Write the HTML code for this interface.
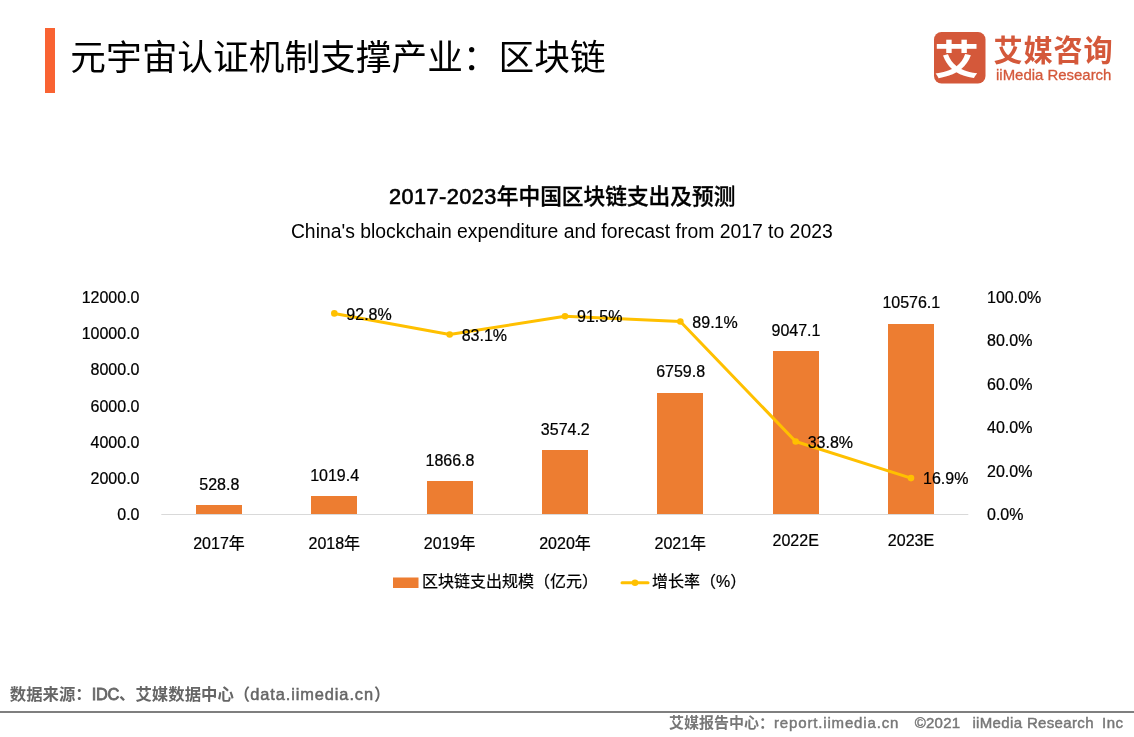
<!DOCTYPE html>
<html lang="zh-CN">
<head>
<meta charset="utf-8">
<title>元宇宙认证机制支撑产业：区块链</title>
<style>
html,body{margin:0;padding:0;background:#fff;}
body{width:1134px;height:737px;overflow:hidden;font-family:"Liberation Sans","Noto Sans CJK SC",sans-serif;}
svg{display:block;}
text{font-family:"Liberation Sans","Noto Sans CJK SC",sans-serif;}
.t16{font-size:16px;fill:#000;stroke:#000;stroke-width:0.22px;}
</style>
</head>
<body>
<svg width="1134" height="737" viewBox="0 0 1134 737">
<rect x="0" y="0" width="1134" height="737" fill="#ffffff"/>
<!-- header -->
<rect x="45" y="28" width="10" height="65" fill="#F96332"/>
<text x="70.3" y="69.8" font-size="35.7" fill="#000" font-weight="400">元宇宙认证机制支撑产业：区块链</text>
<!-- logo -->
<rect x="934" y="32" width="51.5" height="51.5" rx="7.5" ry="7.5" fill="#D4583A"/>
<text transform="translate(956.6 74.4) scale(1.12 1)" font-size="40" font-weight="700" fill="#fff" text-anchor="middle">艾</text>
<text x="993.4" y="61.3" font-size="29.2" letter-spacing="0.85" font-weight="700" fill="#D4583A">艾媒咨询</text>
<text x="996" y="79.8" font-size="14.95" fill="#D4583A" stroke="#D4583A" stroke-width="0.3">iiMedia Research</text>
<!-- chart titles -->
<text x="389" y="204" font-size="21.7" font-weight="500" fill="#000" stroke="#000" stroke-width="0.35"><tspan letter-spacing="0.45" stroke-width="0.6">2017-2023</tspan>年中国区块链支出及预测</text>
<text x="561.8" y="238.4" font-size="19.37" fill="#000" text-anchor="middle">China's blockchain expenditure and forecast from 2017 to 2023</text>

<text class="t16" x="139.5" y="303.0" text-anchor="end">12000.0</text>
<text class="t16" x="139.5" y="339.2" text-anchor="end">10000.0</text>
<text class="t16" x="139.5" y="375.3" text-anchor="end">8000.0</text>
<text class="t16" x="139.5" y="411.5" text-anchor="end">6000.0</text>
<text class="t16" x="139.5" y="447.7" text-anchor="end">4000.0</text>
<text class="t16" x="139.5" y="483.8" text-anchor="end">2000.0</text>
<text class="t16" x="139.5" y="520.0" text-anchor="end">0.0</text>
<text class="t16" x="987" y="303.0">100.0%</text>
<text class="t16" x="987" y="346.4">80.0%</text>
<text class="t16" x="987" y="389.8">60.0%</text>
<text class="t16" x="987" y="433.2">40.0%</text>
<text class="t16" x="987" y="476.6">20.0%</text>
<text class="t16" x="987" y="520.0">0.0%</text>
<rect x="196" y="505" width="46" height="9" fill="#ED7D31"/>
<text class="t16" x="219.30" y="489.9" text-anchor="middle">528.8</text>
<text class="t16" x="219" y="549.3" text-anchor="middle">2017年</text>
<rect x="311" y="496" width="46" height="18" fill="#ED7D31"/>
<text class="t16" x="334.63" y="481.1" text-anchor="middle">1019.4</text>
<text class="t16" x="334.33" y="549.3" text-anchor="middle">2018年</text>
<rect x="427" y="481" width="46" height="33" fill="#ED7D31"/>
<text class="t16" x="449.97" y="465.7" text-anchor="middle">1866.8</text>
<text class="t16" x="449.67" y="549.3" text-anchor="middle">2019年</text>
<rect x="542" y="450" width="46" height="64" fill="#ED7D31"/>
<text class="t16" x="565.30" y="434.9" text-anchor="middle">3574.2</text>
<text class="t16" x="565" y="549.3" text-anchor="middle">2020年</text>
<rect x="657" y="393" width="46" height="121" fill="#ED7D31"/>
<text class="t16" x="680.63" y="377.3" text-anchor="middle">6759.8</text>
<text class="t16" x="680.33" y="549.3" text-anchor="middle">2021年</text>
<rect x="773" y="351" width="46" height="163" fill="#ED7D31"/>
<text class="t16" x="795.97" y="335.9" text-anchor="middle">9047.1</text>
<text class="t16" x="795.67" y="546" text-anchor="middle">2022E</text>
<rect x="888" y="324" width="46" height="190" fill="#ED7D31"/>
<text class="t16" x="911.30" y="308.2" text-anchor="middle">10576.1</text>
<text class="t16" x="911" y="546" text-anchor="middle">2023E</text>
<rect x="161.3" y="514" width="807" height="1" fill="#D9D9D9"/>
<polyline fill="none" stroke="#FFC000" stroke-width="3" stroke-linejoin="round" stroke-linecap="round" points="334.33,313.4 449.67,334.5 565,316.2 680.33,321.5 795.67,441.5 911,478.1"/>
<circle cx="334.33" cy="313.4" r="3.3" fill="#FFC000"/>
<text class="t16" x="346.33" y="319.6">92.8%</text>
<circle cx="449.67" cy="334.5" r="3.3" fill="#FFC000"/>
<text class="t16" x="461.67" y="340.7">83.1%</text>
<circle cx="565" cy="316.2" r="3.3" fill="#FFC000"/>
<text class="t16" x="577.00" y="322.4">91.5%</text>
<circle cx="680.33" cy="321.5" r="3.3" fill="#FFC000"/>
<text class="t16" x="692.33" y="327.7">89.1%</text>
<circle cx="795.67" cy="441.5" r="3.3" fill="#FFC000"/>
<text class="t16" x="807.67" y="447.7">33.8%</text>
<circle cx="911" cy="478.1" r="3.3" fill="#FFC000"/>
<text class="t16" x="923.00" y="484.3">16.9%</text>
<rect x="393" y="577.5" width="25.5" height="10.5" fill="#ED7D31"/>
<text class="t16" x="422" y="587">区块链支出规模（亿元）</text>
<line x1="622" y1="582.7" x2="648" y2="582.7" stroke="#FFC000" stroke-width="3" stroke-linecap="round"/>
<circle cx="635" cy="582.7" r="3.3" fill="#FFC000"/>
<text class="t16" x="652" y="587">增长率（%）</text>
<text x="9.8" y="699.6" font-size="16.4" font-weight="700" fill="#666">数据来源：<tspan letter-spacing="-0.3" font-weight="400" stroke="#666" stroke-width="0.8">IDC</tspan>、艾媒数据中心（<tspan letter-spacing="0.9" font-weight="400" stroke="#666" stroke-width="0.5">data.iimedia.cn</tspan>）</text>
<rect x="0" y="711" width="1134" height="2" fill="#7F7F7F"/>
<text y="727.5" font-size="15" font-weight="700" fill="#777"><tspan x="669">艾媒报告中心：</tspan><tspan font-weight="400" stroke="#777" stroke-width="0.45"><tspan x="774" letter-spacing="0.84">report.iimedia.cn</tspan><tspan x="914.7" letter-spacing="0.25">©2021</tspan><tspan x="972.4" letter-spacing="0.35">iiMedia Research</tspan><tspan x="1102" letter-spacing="0.5">Inc</tspan></tspan></text>
</svg>
</body>
</html>
